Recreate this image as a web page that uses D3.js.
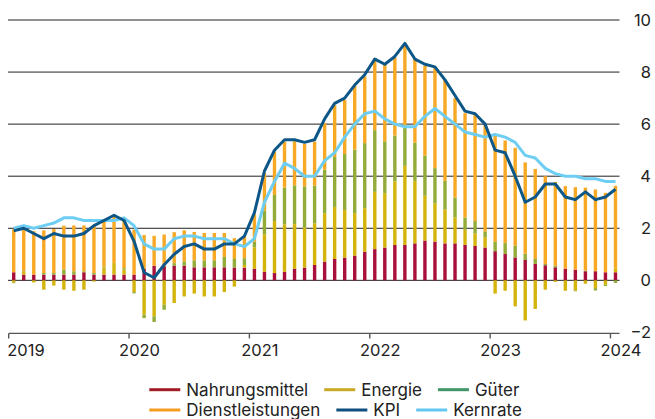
<!DOCTYPE html>
<html><head><meta charset="utf-8">
<script src="https://cdn.jsdelivr.net/npm/d3@7"></script>
<style>
html,body{margin:0;padding:0;background:#fff;}
svg{display:block;font-family:Inter,"Noto Sans",sans-serif;}
</style></head><body>
<svg id="chart" width="655" height="419"></svg>
<script>
// ---- data ----
const yearLabels = ["2019","2020","2021","2022","2023","2024"];
const yTickValues = [-2,0,2,4,6,8,10];
const seriesNames = ["Nahrungsmittel","Energie","Güter","Dienstleistungen","KPI","Kernrate"];

const food = [0.31,0.22,0.22,0.22,0.22,0.22,0.22,0.31,0.22,0.22,0.22,0.22,
  0.22,0.44,0.56,0.54,0.56,0.56,0.50,0.50,0.50,0.50,0.49,0.49,
  0.44,0.33,0.28,0.33,0.44,0.49,0.59,0.72,0.82,0.87,0.95,1.10,
  1.20,1.26,1.36,1.36,1.42,1.53,1.49,1.42,1.42,1.36,1.32,1.26,
  1.12,1.01,0.88,0.78,0.63,0.58,0.50,0.45,0.41,0.35,0.35,0.31,0.31];
const energy = [-0.08,0.10,-0.08,-0.36,-0.20,-0.36,-0.40,-0.36,-0.05,0.28,0.45,0.20,
  -0.45,-1.32,-1.38,-0.94,-0.87,-0.62,-0.51,-0.62,-0.62,-0.45,-0.24,0.10,
  0.83,1.44,2.00,1.82,1.72,1.54,1.60,1.86,2.00,1.83,1.63,1.67,
  2.20,2.09,2.44,3.04,2.40,1.72,1.47,1.31,1.00,0.58,0.49,0.40,
  -0.51,-0.40,-1.00,-1.54,-1.10,-0.36,-0.06,-0.40,-0.40,-0.13,-0.30,-0.17,0.15];
const goods = [-0.03,0.03,0.00,0.06,0.06,0.19,0.13,0.04,0.06,0.02,0.00,0.05,
  -0.05,-0.13,-0.22,-0.19,0.10,0.17,0.27,0.27,0.27,0.40,0.33,0.26,
  0.22,0.90,1.00,1.41,1.49,1.58,1.45,1.67,1.92,2.15,2.44,2.50,
  2.37,1.99,1.76,1.45,1.47,1.54,1.35,1.09,0.76,0.47,0.47,0.22,
  0.36,0.42,0.45,0.24,0.19,0.05,0.06,0.00,-0.02,0.03,-0.09,-0.05,-0.10];
const services = [1.65,1.63,1.67,1.64,1.69,1.69,1.76,1.76,1.85,1.82,1.83,1.88,
  1.73,1.30,1.15,1.22,1.19,1.19,1.09,1.05,1.05,0.92,0.80,0.83,
  1.05,1.45,1.67,1.77,1.69,1.63,1.69,1.79,1.99,2.08,2.44,2.56,
  2.76,2.95,2.99,3.20,3.24,3.46,3.85,3.88,3.82,4.01,4.08,4.10,
  4.09,3.94,3.76,3.51,3.46,3.37,3.22,3.17,3.17,3.18,3.14,3.05,3.17];
const kpi = [1.9,2.0,1.8,1.6,1.8,1.7,1.7,1.8,2.1,2.3,2.5,2.3,
  1.5,0.3,0.1,0.6,1.0,1.3,1.4,1.2,1.2,1.4,1.4,1.7,
  2.6,4.2,5.0,5.4,5.4,5.3,5.4,6.2,6.8,7.0,7.5,7.9,
  8.5,8.3,8.6,9.1,8.5,8.3,8.2,7.7,7.1,6.5,6.4,6.0,
  5.0,4.9,4.0,3.0,3.2,3.7,3.7,3.2,3.1,3.4,3.1,3.2,3.5];
const kernrate = [2.0,2.1,2.0,2.1,2.2,2.4,2.4,2.3,2.3,2.3,2.3,2.4,
  2.1,1.4,1.2,1.2,1.6,1.7,1.7,1.6,1.6,1.6,1.4,1.3,
  1.6,3.0,3.8,4.5,4.3,4.0,4.0,4.6,4.9,5.5,6.0,6.4,
  6.5,6.2,6.0,5.9,5.9,6.3,6.6,6.3,6.0,5.7,5.6,5.5,
  5.6,5.5,5.3,4.8,4.7,4.3,4.1,4.0,4.0,3.9,3.9,3.8,3.8];

// ---- styles ----
const barColors = ["#a80f3a","#d4b40c","#93ab38","#f7a824"];
const legendColors = ["#a01c26","#c9a825","#3f9468","#f59b22","#0f4f7f","#63c7f1"];
const kpiColor = "#0c5788", coreColor = "#6dcdf3";
const textColor = "#222";

const months = d3.timeMonths(new Date(2019,0,1), new Date(2024,1,1)).map(d3.timeFormat("%Y-%m"));
const table = months.map((m,i)=>({month:m, food:food[i], energy:energy[i], goods:goods[i], services:services[i]}));
const keys = ["food","energy","goods","services"];

const svg = d3.select("#chart");
const x = d3.scaleBand().domain(months).range([8.7, 620.5]).padding(0);
const y = d3.scaleLinear().domain([-2, 10]).range([332.4, 20]);
const cx = m => x(m) + x.bandwidth()/2;

// gridlines
svg.append("g").selectAll("line").data(yTickValues.filter(v=>v>-2)).join("line")
  .attr("x1", 8).attr("x2", 619.5)
  .attr("y1", d=>y(d)).attr("y2", d=>y(d))
  .attr("stroke", "#222").attr("stroke-width", 1);

// bars
const stacked = d3.stack().keys(keys).offset(d3.stackOffsetDiverging)(table);
const bw = 3.4;
svg.append("g").selectAll("g").data(stacked).join("g")
  .attr("fill", (d,i)=>barColors[i])
  .selectAll("rect").data(d=>d).join("rect")
  .attr("x", d=>cx(d.data.month) - bw/2)
  .attr("width", bw)
  .attr("y", d=>y(Math.max(d[0],d[1])))
  .attr("height", d=>Math.abs(y(d[0])-y(d[1])));

// lines
const line = d3.line().x((d,i)=>cx(months[i])).y(d=>y(d));
svg.append("path").datum(kernrate).attr("d", line)
  .attr("fill","none").attr("stroke",coreColor).attr("stroke-width",3).attr("stroke-linejoin","round");
svg.append("path").datum(kpi).attr("d", line)
  .attr("fill","none").attr("stroke",kpiColor).attr("stroke-width",3).attr("stroke-linejoin","round");

// x axis
const yearMonths = months.filter(m=>m.endsWith("-01"));
const axisY = y(-2) + 1;
const gx = svg.append("g").attr("transform", `translate(0,${axisY})`);
const xAxis = d3.axisBottom(d3.scaleLinear().domain([0,1]).range([0,1]))
gx.append("line").attr("x1", x(months[0])).attr("x2", 619.5).attr("y1",0).attr("y2",0)
  .attr("stroke","#555").attr("stroke-width",1.4);
gx.selectAll("line.tick").data(yearMonths).join("line").attr("class","tick")
  .attr("x1", d=>x(d)).attr("x2", d=>x(d)).attr("y1",0).attr("y2",5)
  .attr("stroke","#555").attr("stroke-width",1.4);
gx.selectAll("text").data(yearMonths).join("text")
  .attr("x", (d,i)=> i===0 ? x(d)-1.4 : x(d)+10.5)
  .attr("y", 22.5)
  .attr("text-anchor", (d,i)=> i===0 ? "start" : "middle")
  .attr("fill", textColor).attr("font-size", 16.5)
  .text((d,i)=>yearLabels[i]);

// y labels
svg.append("g").selectAll("text").data(yTickValues).join("text")
  .attr("x", 651).attr("y", d=>y(d)).attr("dy","0.36em")
  .attr("text-anchor","end").attr("fill",textColor).attr("font-size",16.5)
  .text(d=> d<0 ? "\u2212"+Math.abs(d) : d);

// legend
const rows = [[0,1,2],[3,4,5]];
const rowY = [389.7, 410];
rows.forEach((row, r)=>{
  let xp = 149.3;
  row.forEach(k=>{
    const g = svg.append("g");
    g.append("line").attr("x1", xp).attr("x2", xp+31).attr("y1", rowY[r]).attr("y2", rowY[r])
      .attr("stroke", legendColors[k]).attr("stroke-width", 3);
    const t = g.append("text").attr("x", xp+37).attr("y", rowY[r]).attr("dy","0.36em")
      .attr("fill", textColor).attr("font-size", 17).text(seriesNames[k]);
    xp = xp + 37 + t.node().getComputedTextLength() + 16;
  });
});
</script>
</body></html>
